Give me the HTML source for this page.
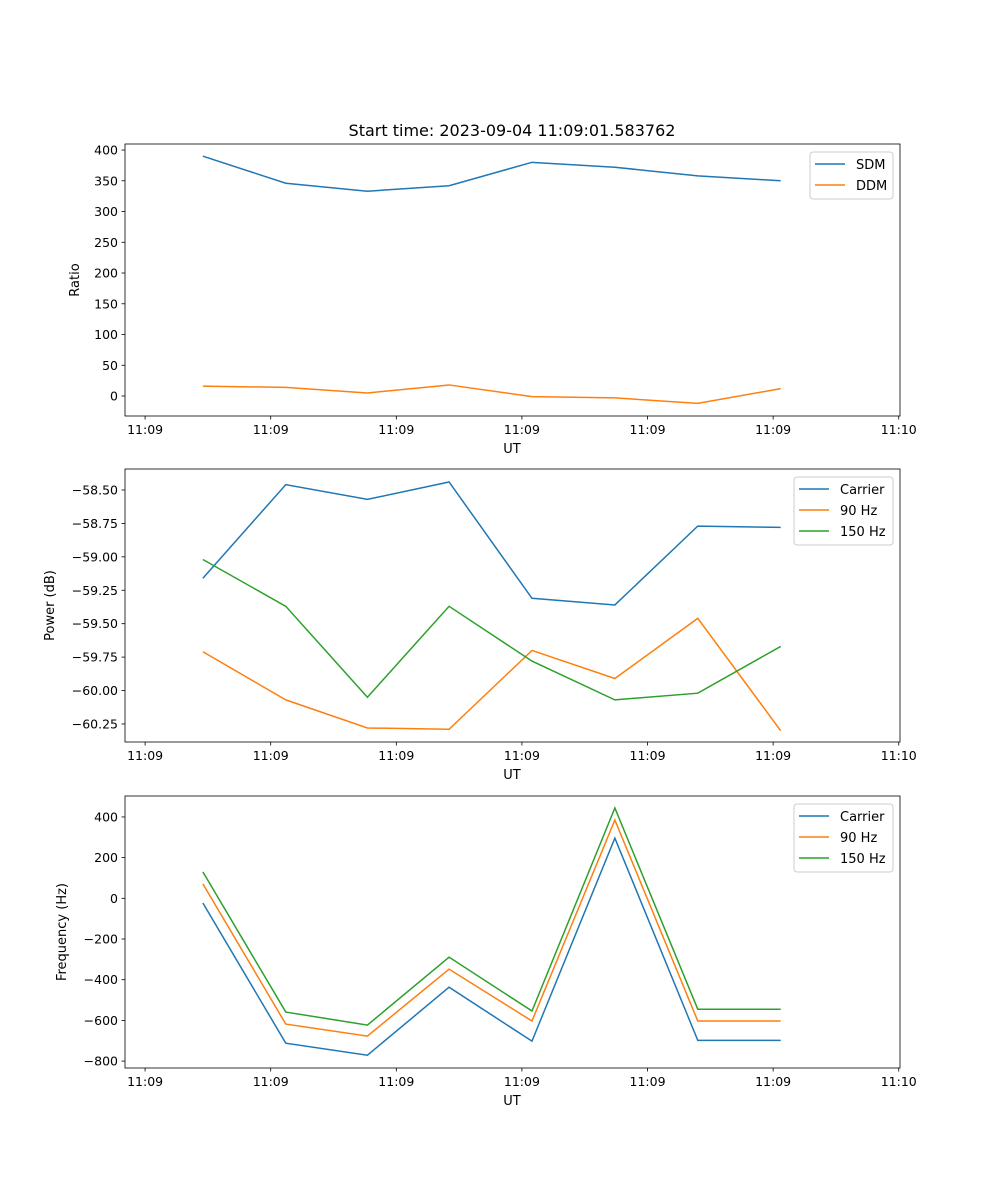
<!DOCTYPE html>
<html><head><meta charset="utf-8"><style>
body{margin:0;background:#fff}
svg{display:block;font-family:"DejaVu Sans","Liberation Sans",sans-serif}
</style></head><body>
<svg id="c" width="1000" height="1200" xmlns="http://www.w3.org/2000/svg">
<text x="512" y="136" font-size="16" text-anchor="middle">Start time: 2023-09-04 11:09:01.583762</text>
</svg>
<script>
// x positions in seconds after 11:09:00
const times = [4.6, 11.2, 17.7, 24.2, 30.8, 37.4, 44.0, 50.6];
const xTicks = [0, 10, 20, 30, 40, 50, 60];
const xTickLabels = ["11:09","11:09","11:09","11:09","11:09","11:09","11:10"];
const sdm = [390, 346, 333, 342, 380, 372, 358, 350];
const ddm = [16, 14, 5, 18, -1, -3, -12, 12];
const pwrCarrier = [-59.16, -58.46, -58.57, -58.44, -59.31, -59.36, -58.77, -58.78];
const pwr90 = [-59.71, -60.07, -60.28, -60.29, -59.70, -59.91, -59.46, -60.30];
const pwr150 = [-59.02, -59.37, -60.05, -59.37, -59.78, -60.07, -60.02, -59.67];
const frqCarrier = [-23, -712, -771, -437, -702, 296, -698, -698];
const frq90 = [71, -618, -677, -348, -603, 385, -603, -603];
const frq150 = [130, -559, -623, -289, -554, 444, -545, -545];
const ticks1 = [0, 50, 100, 150, 200, 250, 300, 350, 400];
const ticks2 = [-60.25, -60.0, -59.75, -59.5, -59.25, -59.0, -58.75, -58.5];
const ticks3 = [-800, -600, -400, -200, 0, 200, 400];

const NS = "http://www.w3.org/2000/svg";
const svg = document.getElementById('c');
function mk(tag, attrs, parent){const e=document.createElementNS(NS,tag);for(const k in attrs)e.setAttribute(k,attrs[k]);(parent||svg).appendChild(e);return e;}
const L=125,R=900,xMin=-1.6,xMax=60.1;
const xs=t=>L+(t-xMin)/(xMax-xMin)*(R-L);
const colors=["#1f77b4","#ff7f0e","#2ca02c"];

function panel(name,top,bot,yMin,yMax,yTicks,fmt,ylabel,ylx,series,labels,leg){
  const g=mk('g',{});
  
  
  const ys=v=>bot-(v-yMin)/(yMax-yMin)*(bot-top);
  series.forEach((s,i)=>{
    const p=mk('polyline',{points:s.map((v,j)=>xs(times[j])+','+ys(v)).join(' '),fill:'none',stroke:colors[i],'stroke-width':1.5},g);
    
    
  });
  mk('rect',{x:L,y:top,width:R-L,height:bot-top,fill:'none',stroke:'#000','stroke-width':0.8},g);
  xTicks.forEach((t,i)=>{
    const x=xs(t);
    mk('line',{x1:x,x2:x,y1:bot,y2:bot+3.5,stroke:'#000','stroke-width':0.8},g);
    const tx=mk('text',{x:x,y:bot+18,'font-size':12.5,'text-anchor':'middle'},g);
    tx.textContent=xTickLabels[i];
    
    
  });
  yTicks.forEach(v=>{
    const y=ys(v);
    mk('line',{x1:L,x2:L-3.5,y1:y,y2:y,stroke:'#000','stroke-width':0.8},g);
    const tx=mk('text',{x:L-7,y:y+4.5,'font-size':12.5,'text-anchor':'end'},g);
    tx.textContent=fmt(v).replace('-','\u2212');
    
    
  });
  const xl=mk('text',{x:512,y:bot+37,'font-size':13,'text-anchor':'middle'},g);
  xl.textContent='UT';
  
  
  const cy=(top+bot)/2;
  const yl=mk('text',{x:ylx,y:cy,'font-size':13,'text-anchor':'middle',transform:`rotate(-90 ${ylx} ${cy})`},g);
  yl.textContent=ylabel;
  
  
  // legend
  const lg=mk('g',{},g);
  
  
  mk('rect',{x:leg[0],y:top+8,width:leg[1],height:labels.length*21+5,rx:3,fill:'#fff',stroke:'#ccc','stroke-width':1},lg);
  labels.forEach((lab,i)=>{
    const y=top+20+i*21;
    mk('line',{x1:leg[0]+5,x2:leg[0]+35,y1:y,y2:y,stroke:colors[i],'stroke-width':1.5},lg);
    const t=mk('text',{x:leg[0]+46,y:y+5,'font-size':13},lg);
    t.textContent=lab;
    
    
  });
}
panel('ratio',144,416,-32.5,409.8,ticks1,v=>String(v),'Ratio',79,[sdm,ddm],['SDM','DDM'],[810,83]);
panel('power',469,742,-60.385,-58.343,ticks2,v=>v.toFixed(2),'Power (dB)',54,[pwrCarrier,pwr90,pwr150],['Carrier','90 Hz','150 Hz'],[794,99]);
panel('frequency',796,1068,-834,503,ticks3,v=>String(v),'Frequency (Hz)',66,[frqCarrier,frq90,frq150],['Carrier','90 Hz','150 Hz'],[794,99]);
</script>
</body></html>
